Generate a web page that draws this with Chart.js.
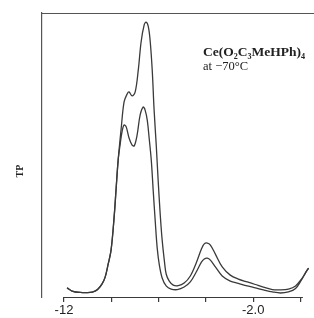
<!DOCTYPE html>
<html>
<head>
<meta charset="utf-8">
<script src="https://cdn.jsdelivr.net/npm/chart.js@4.4.1/dist/chart.umd.min.js"></script>
<style>
  html, body { margin: 0; padding: 0; background: #fff; }
  #wrap { width: 314px; height: 318px; position: relative; }
</style>
</head>
<body>
<div id="wrap"><canvas id="tp"></canvas></div>
<script>
// potential (V) and TP intensity (arbitrary units)
const upperE = [-1.213, -1.234, -1.268, -1.310, -1.331, -1.344, -1.361, -1.374, -1.386, -1.399, -1.412, -1.420, -1.429,
  -1.442, -1.454, -1.467, -1.475, -1.488, -1.501, -1.514, -1.526, -1.539, -1.547, -1.556, -1.564, -1.573, -1.581,
  -1.590, -1.598, -1.607, -1.615, -1.624, -1.632, -1.645, -1.662, -1.683, -1.708, -1.734, -1.759, -1.781, -1.793,
  -1.806, -1.819, -1.840, -1.869, -1.903, -1.937, -1.975, -2.009, -2.043, -2.081, -2.115, -2.149, -2.179, -2.204,
  -2.221, -2.234];
const upperI = [3.2, 2.1, 1.6, 1.6, 2.1, 2.8, 4.6, 7.0, 11.3, 16.5, 28.2, 37.7, 48.2,
  59.5, 68.7, 71.5, 72.2, 70.8, 72.2, 79.9, 89.8, 95.8, 96.8, 95.4, 90.5, 79.9, 65.8,
  53.5, 41.2, 28.9, 20.1, 13.0, 8.1, 5.6, 4.2, 4.0, 4.9, 7.4, 12.0, 16.9, 18.7,
  19.0, 18.3, 15.1, 10.6, 7.7, 6.3, 5.3, 4.4, 3.5, 2.6, 2.5, 2.8, 3.9, 6.3,
  8.5, 10.2];

const lowerE = [-1.213, -1.234, -1.268, -1.310, -1.331, -1.344, -1.361, -1.374, -1.386, -1.399, -1.412, -1.420, -1.429,
  -1.437, -1.446, -1.454, -1.463, -1.475, -1.488, -1.497, -1.509, -1.522, -1.535, -1.543, -1.552, -1.560, -1.569,
  -1.577, -1.586, -1.594, -1.603, -1.615, -1.632, -1.653, -1.679, -1.708, -1.734, -1.759, -1.781, -1.793, -1.806,
  -1.819, -1.840, -1.869, -1.903, -1.937, -1.975, -2.009, -2.043, -2.081, -2.115, -2.149, -2.179, -2.204, -2.221,
  -2.234];
const lowerI = [3.2, 2.1, 1.6, 1.6, 2.1, 2.8, 4.6, 7.0, 11.3, 16.5, 28.2, 37.7, 48.2,
  53.5, 58.5, 60.6, 59.9, 56.0, 53.5, 53.2, 57.0, 64.1, 66.9, 65.8, 62.3, 56.0, 48.2,
  37.7, 26.4, 17.3, 11.3, 6.7, 3.9, 2.8, 2.6, 3.5, 5.3, 8.8, 12.3, 13.4, 13.7,
  13.0, 10.6, 7.4, 5.6, 4.8, 3.9, 3.2, 2.5, 1.8, 1.4, 1.8, 3.0, 6.0, 8.5,
  10.2];

const tickValues = [-1.2, -1.4, -1.6, -1.8, -2.0, -2.2];
const tickLabels = { '-1.2': '-12', '-2': '-2.0' };
const compound = 'Ce(O\u2082C\u2083MeHPh)\u2084';
const condition = 'at \u221270\u00b0C';
const yTitle = 'TP';

const ink = '#3a3a3a';
const toPoints = (xs, ys) => xs.map((x, i) => ({ x: x, y: ys[i] }));

// frame lines + annotation text
const decor = {
  id: 'decor',
  afterDraw(chart) {
    const ctx = chart.ctx;
    const a = chart.chartArea;
    const xs = chart.scales.x;
    ctx.save();
    ctx.strokeStyle = '#555';
    ctx.lineWidth = 1.2;
    // top frame line
    ctx.beginPath();
    ctx.moveTo(a.left, a.top + 0.5);
    ctx.lineTo(a.right, a.top + 0.5);
    ctx.stroke();
    // bottom axis line, only across the labelled range
    ctx.strokeStyle = ink;
    ctx.beginPath();
    ctx.moveTo(xs.getPixelForValue(-1.2), a.bottom + 0.5);
    ctx.lineTo(xs.getPixelForValue(-2.21), a.bottom + 0.5);
    ctx.stroke();

    ctx.fillStyle = '#222';
    ctx.textBaseline = 'middle';
    ctx.font = 'bold 13.5px "Liberation Serif", "DejaVu Serif", serif';
    ctx.fillText(compound, 203, 53);
    ctx.font = '12.5px "Liberation Serif", "DejaVu Serif", serif';
    ctx.fillText(condition, 203, 67);

    ctx.translate(20, 171);
    ctx.rotate(-Math.PI / 2);
    ctx.textAlign = 'center';
    ctx.font = 'bold 10px "Liberation Serif", "DejaVu Serif", serif';
    ctx.fillText(yTitle, 0, 0);
    ctx.restore();
  }
};

const canvas = document.getElementById('tp');
new Chart(canvas.getContext('2d'), {
  type: 'line',
  data: {
    datasets: [
      { label: 'upper', data: toPoints(upperE, upperI), borderColor: ink, borderWidth: 1.3, pointRadius: 0, tension: 0.35, fill: false },
      { label: 'lower', data: toPoints(lowerE, lowerI), borderColor: ink, borderWidth: 1.3, pointRadius: 0, tension: 0.35, fill: false }
    ]
  },
  options: {
    responsive: true,
    maintainAspectRatio: false,
    animation: false,
    layout: { padding: { top: 13, left: 0, right: 0, bottom: 0 } },
    plugins: { legend: { display: false }, tooltip: { enabled: false } },
    scales: {
      x: {
        type: 'linear',
        reverse: true,
        min: -2.257,
        max: -1.107,
        afterBuildTicks: (s) => { s.ticks = tickValues.map(v => ({ value: v })); },
        afterFit: (s) => { s.height = 21; },
        border: { display: false },
        grid: { drawOnChartArea: false, drawTicks: true, tickLength: 5, color: ink, lineWidth: 1.2 },
        ticks: {
          autoSkip: false,
          maxRotation: 0,
          padding: 1,
          color: '#222',
          font: { family: 'Arial, "Liberation Sans", sans-serif', size: 13 },
          callback: (v) => tickLabels[String(Math.round(v * 10) / 10)] || ''
        }
      },
      y: {
        min: 0,
        max: 100,
        afterFit: (s) => { s.width = 42; },
        ticks: { display: false },
        grid: { display: false, drawTicks: false },
        border: { display: true, color: '#555', width: 1.2 }
      }
    }
  },
  plugins: [decor]
});
</script>
</body>
</html>
